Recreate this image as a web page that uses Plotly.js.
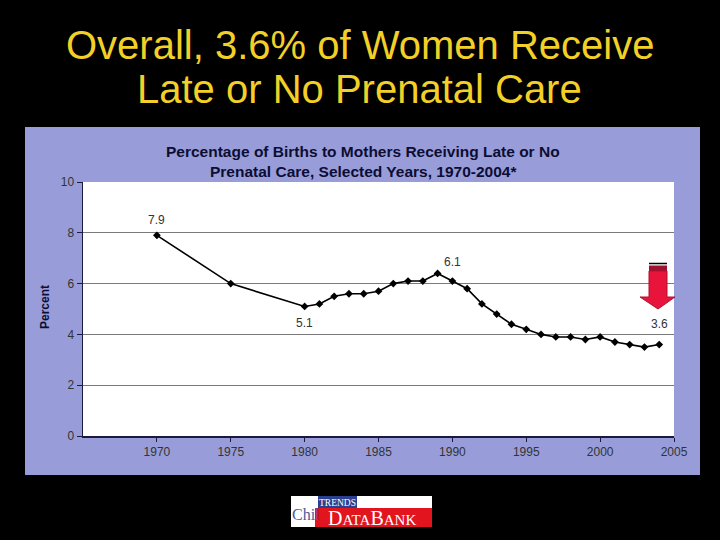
<!DOCTYPE html>
<html>
<head>
<meta charset="utf-8">
<script src="https://cdn.plot.ly/plotly-3.0.1.min.js"></script>
<style>html,body{margin:0;padding:0;background:#000;}#chart{width:720px;height:540px;}</style>
</head>
<body>
<div id="chart"></div>
<script>
// ---- data ----
const years = [1970,1975,1980,1981,1982,1983,1984,1985,1986,1987,1988,1989,1990,1991,1992,1993,1994,1995,1996,1997,1998,1999,2000,2001,2002,2003,2004];
const percent = [7.9,6.0,5.1,5.2,5.5,5.6,5.6,5.7,6.0,6.1,6.1,6.4,6.1,5.8,5.2,4.8,4.4,4.2,4.0,3.9,3.9,3.8,3.9,3.7,3.6,3.5,3.6];
const labelYears = [1970,1980,1990,2004];
const labelShift = [15,-17,19,21];
const yTicks = [0,2,4,6,8,10];
const xTicks = [1970,1975,1980,1985,1990,1995,2000,2005];
const mainTitleLines = ["Overall, 3.6% of Women Receive", "Late or No Prenatal Care"];
const chartTitleLines = ["Percentage of Births to Mothers Receiving Late or No", "Prenatal Care, Selected Years, 1970-2004*"];
const yTitle = "Percent";

// ---- layout helpers (pixel -> paper) ----
const M = {l:83, r:46, t:182, b:104};
const W = 720, H = 540;
const pw = W - M.l - M.r, ph = H - M.t - M.b;
const px = x => (x - M.l) / pw;
const py = y => (H - M.b - y) / ph;

const FONT = 'Liberation Sans, Arial';
const anns = [];
const mainY = [45, 89];
mainTitleLines.forEach((t,i) => anns.push({text: t, xref:'paper', yref:'paper', x: px(359.5), y: py(mainY[i]), xanchor:'center', yanchor:'middle',
  showarrow:false, font:{family:FONT, size:40, color:'#F2D027'}}));
const chartY = [151, 171];
chartTitleLines.forEach((t,i) => anns.push({text: t, xref:'paper', yref:'paper', x: px(363), y: py(chartY[i]), xanchor:'center', yanchor:'middle',
  showarrow:false, font:{family:FONT, size:15.5, color:'#0d0d33', weight:'bold'}}));
anns.push({text: '<b>'+yTitle+'</b>', xref:'paper', yref:'paper', x: px(45), y: py(307), xanchor:'center', yanchor:'middle',
  showarrow:false, textangle:-90, font:{family:FONT, size:12, color:'#0d0d33'}});
labelYears.forEach((yr,i) => {
  const v = percent[years.indexOf(yr)];
  anns.push({text: v.toFixed(1), x: yr, y: v, xref:'x', yref:'y', showarrow:false, yshift: labelShift[i],
    font:{family:FONT, size:12, color:'#333333'}});
});
// logo texts
anns.push({text:'Chil', xref:'paper', yref:'paper', x: px(290), y: py(514), xanchor:'left', yanchor:'middle', showarrow:false,
  font:{family:'Liberation Serif', size:16, color:'#4a5a9a'}});
anns.push({text:'TRENDS', xref:'paper', yref:'paper', x: px(337.5), y: py(502.5), xanchor:'center', yanchor:'middle', showarrow:false,
  font:{family:'Liberation Serif', size:9.5, color:'#ffffff'}});
anns.push({text:'<span style="font-size:20px">D</span>ATA<span style="font-size:20px">B</span>ANK', xref:'paper', yref:'paper', x: px(372), y: py(518), xanchor:'center', yanchor:'middle', showarrow:false,
  font:{family:'Liberation Serif', size:15, color:'#ffffff'}});

const shapes = [
  // background panel
  {type:'rect', xref:'paper', yref:'paper', x0:px(25), x1:px(700), y0:py(475), y1:py(127), fillcolor:'#989DD9', line:{width:0}, layer:'below'},
  // plot area
  {type:'rect', xref:'paper', yref:'paper', x0:0, x1:1, y0:0, y1:1, fillcolor:'#ffffff', line:{width:0}, layer:'below'},
  // arrow
  {type:'line', xref:'paper', yref:'paper', x0:px(649), x1:px(667), y0:py(263.5), y1:py(263.5), line:{color:'#000', width:1.5}},
  {type:'rect', xref:'paper', yref:'paper', x0:px(649), x1:px(667), y0:py(271), y1:py(265.5), fillcolor:'#9E1030', line:{width:0}},
  {type:'path', xref:'paper', yref:'paper',
    path:`M ${px(649)} ${py(271)} L ${px(667)} ${py(271)} L ${px(667)} ${py(297)} L ${px(675)} ${py(297)} L ${px(658)} ${py(309)} L ${px(640)} ${py(297)} L ${px(649)} ${py(297)} Z`,
    fillcolor:'#E8143C', line:{color:'#B01030', width:1}},
  // logo
  {type:'rect', xref:'paper', yref:'paper', x0:px(291), x1:px(432), y0:py(527), y1:py(496), fillcolor:'#ffffff', line:{width:0}},
  {type:'rect', xref:'paper', yref:'paper', x0:px(318), x1:px(357), y0:py(508), y1:py(496), fillcolor:'#2B3F8F', line:{width:0}},
  {type:'rect', xref:'paper', yref:'paper', x0:px(315), x1:px(432), y0:py(527), y1:py(508), fillcolor:'#E2141E', line:{width:0}}
];

const trace = {
  x: years, y: percent, type:'scatter', mode:'lines+markers',
  line:{color:'#000000', width:1.6},
  marker:{symbol:'diamond', size:6, color:'#000000'},
  hoverinfo:'skip', showlegend:false
};

const layout = {
  width: W, height: H,
  margin: M,
  paper_bgcolor:'#000000',
  plot_bgcolor:'rgba(0,0,0,0)',
  showlegend:false,
  xaxis:{range:[1965,2005], tickvals:xTicks, ticks:'outside', ticklen:4, tickcolor:'#1a1a40', showgrid:false, zeroline:false,
    showline:true, linecolor:'#1a1a40', linewidth:1.5, tickfont:{family:FONT, size:12, color:'#333333'}, fixedrange:true},
  yaxis:{range:[0,10], tickvals:yTicks, ticks:'outside', ticklen:5, tickcolor:'#1a1a40', showgrid:true, gridcolor:'#7a7a7a', gridwidth:1,
    zeroline:false, showline:true, linecolor:'#1a1a40', linewidth:1.5, tickfont:{family:FONT, size:12, color:'#333333'}, fixedrange:true},
  shapes: shapes,
  annotations: anns
};

Plotly.newPlot('chart', [trace], layout, {staticPlot:true, displayModeBar:false});
</script>
</body>
</html>
